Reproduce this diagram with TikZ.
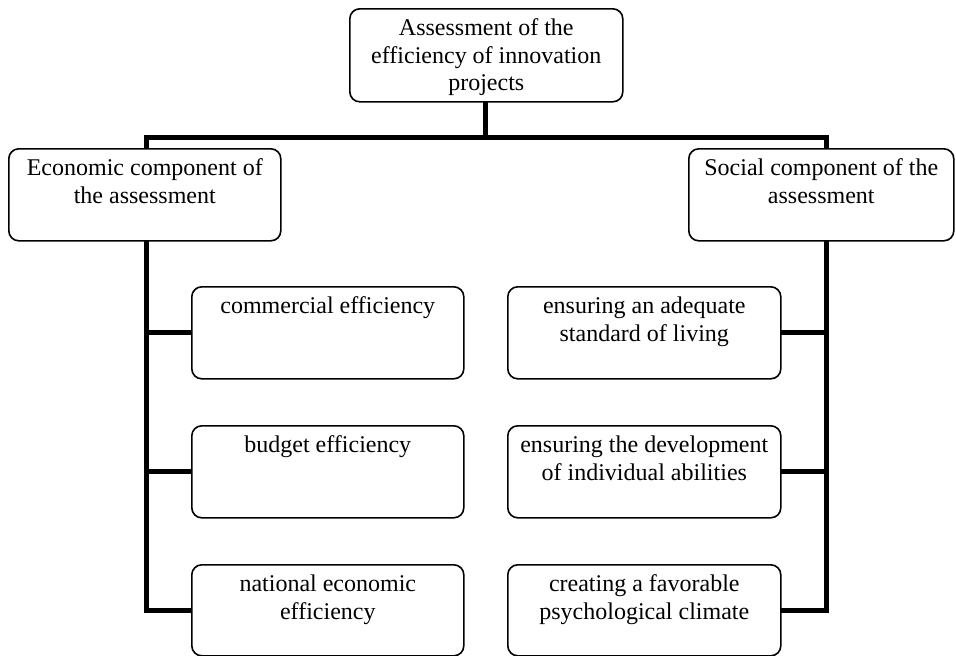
\documentclass[tikz,border=0pt]{standalone}
\usepackage{fontspec}
\setmainfont{Liberation Serif}
\usetikzlibrary{backgrounds}
\newcommand\bxtext[3]{\parbox[t][#2][t]{#1}{\centering\rule{0pt}{27pt}#3}}
\tikzset{
  boxnode/.style={draw, line width=1.6pt, rounded corners=10pt, fill=white,
    inner sep=0pt, anchor=north west, font=\fontsize{24}{27.5}\selectfont},
  conn/.style={line width=5pt, line cap=rect, line join=miter}
}
\begin{document}
\begin{tikzpicture}[x=1pt,y=-1pt]
\useasboundingbox (0,0) rectangle (956,656);
% top
\node[boxnode] (top) at (349,8) {\bxtext{273pt}{93pt}{Assessment of the\\efficiency of innovation\\projects}};
% level 1
\node[boxnode] (eco) at (8,148) {\bxtext{272pt}{92pt}{Economic component of\\the assessment}};
\node[boxnode] (soc) at (688,148) {\bxtext{265pt}{92pt}{Social component of the\\assessment}};
% left children
\node[boxnode] (l1) at (191,286) {\bxtext{272pt}{92pt}{commercial efficiency}};
\node[boxnode] (l2) at (191,425) {\bxtext{272pt}{92pt}{budget efficiency}};
\node[boxnode] (l3) at (191,564) {\bxtext{272pt}{91pt}{national economic\\efficiency}};
% right children
\node[boxnode] (r1) at (507,286) {\bxtext{273pt}{92pt}{ensuring an adequate\\standard of living}};
\node[boxnode] (r2) at (507,425) {\bxtext{273pt}{92pt}{ensuring the development\\of individual abilities}};
\node[boxnode] (r3) at (507,564) {\bxtext{273pt}{91pt}{creating a favorable\\psychological climate}};
\coordinate (jt) at (485,137);
\coordinate (jl) at (146,137);
\coordinate (jr) at (826,137);
\begin{pgfonlayer}{background}
\draw[conn] (top.south -| jt) -- (jt);
\draw[conn] (jl) -- (jr);
\draw[conn] (jl) |- (l3.west);
\draw[conn] (jl |- l1.west) -- (l1.west);
\draw[conn] (jl |- l2.west) -- (l2.west);
\draw[conn] (jr) |- (r3.east);
\draw[conn] (jr |- r1.east) -- (r1.east);
\draw[conn] (jr |- r2.east) -- (r2.east);
\end{pgfonlayer}
\end{tikzpicture}
\end{document}
